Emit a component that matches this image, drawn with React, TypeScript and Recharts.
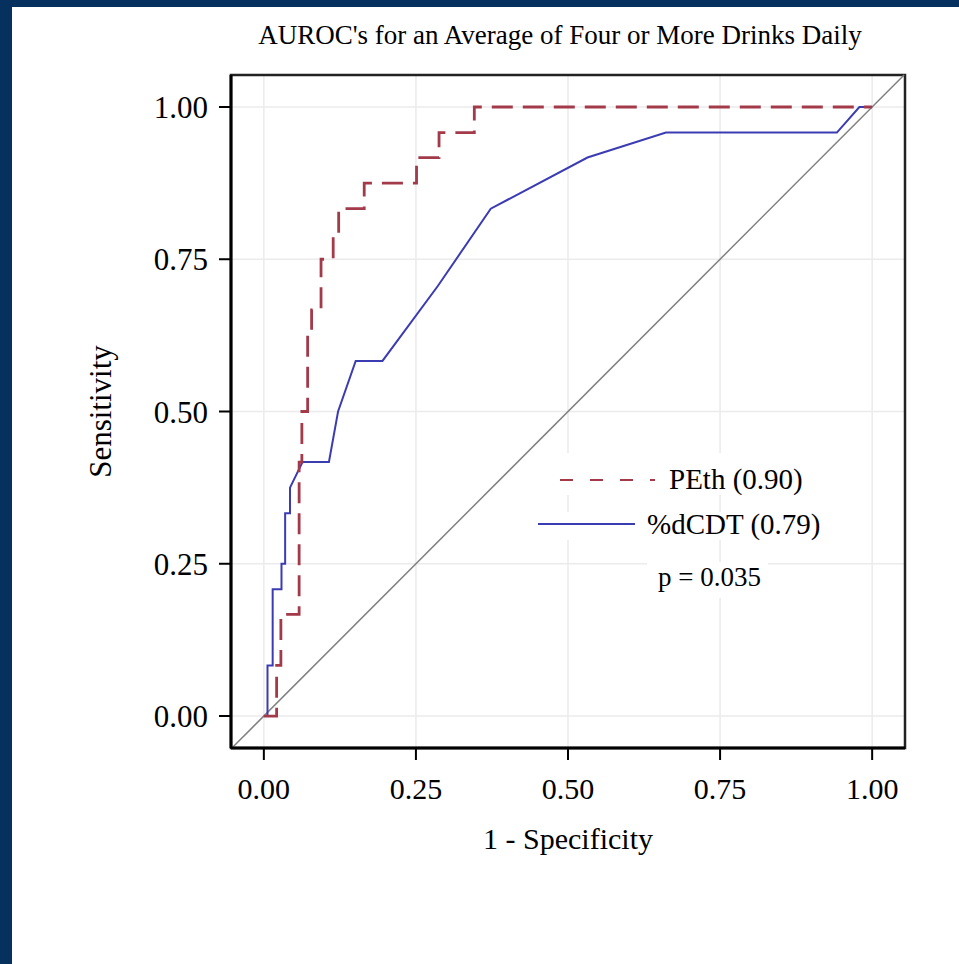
import { LineChart, Line, XAxis, YAxis, CartesianGrid, ReferenceLine, ReferenceArea, Label } from 'recharts';

const TITLE = "AUROC's for an Average of Four or More Drinks Daily";
const X_LABEL = '1 - Specificity';
const Y_LABEL = 'Sensitivity';
const AXIS_TICKS = [0, 0.25, 0.5, 0.75, 1];
const X_DOMAIN: [number, number] = [-0.054, 1.054];
const Y_DOMAIN: [number, number] = [-0.0525, 1.0525];

const SERIES_NAMES = ['PEth (0.90)', '%dCDT (0.79)'];
const P_VALUE = 'p = 0.035';

// PEth ROC points (1 - specificity, sensitivity)
const pethFpr = [0, 0.021, 0.021, 0.028, 0.028, 0.058, 0.058, 0.0625, 0.0625, 0.072, 0.072, 0.0785, 0.0785, 0.094, 0.094, 0.114, 0.114, 0.123, 0.123, 0.165, 0.165, 0.251, 0.251, 0.288, 0.288, 0.346, 0.346, 1];
const pethTpr = [0, 0, 0.083, 0.083, 0.167, 0.167, 0.417, 0.417, 0.5, 0.5, 0.625, 0.625, 0.667, 0.667, 0.75, 0.75, 0.792, 0.792, 0.833, 0.833, 0.875, 0.875, 0.917, 0.917, 0.958, 0.958, 1, 1];

// %dCDT ROC points
const cdtFpr = [0, 0.006, 0.006, 0.0145, 0.0145, 0.029, 0.029, 0.035, 0.035, 0.043, 0.043, 0.0636, 0.107, 0.122, 0.151, 0.195, 0.286, 0.373, 0.532, 0.661, 0.942, 0.979, 1];
const cdtTpr = [0, 0, 0.083, 0.083, 0.208, 0.208, 0.25, 0.25, 0.333, 0.333, 0.375, 0.417, 0.417, 0.5, 0.583, 0.583, 0.706, 0.833, 0.917, 0.958, 0.958, 1, 1];

const pethData = pethFpr.map((x, i) => ({ x, y: pethTpr[i] }));
const cdtData = cdtFpr.map((x, i) => ({ x, y: cdtTpr[i] }));

const FONT = '"Liberation Serif", "Times New Roman", serif';
const RED = '#a33a4a';
const BLUE = '#3c3cb2';
const NAVY = '#06305e';

export default function App() {
  return (
    <div style={{ position: 'absolute', left: 0, top: 0, width: 959, height: 964, background: NAVY, fontFamily: FONT }}>
      <div style={{ position: 'absolute', left: 12, top: 7, right: 0, bottom: 0, background: '#fff' }} />
      <div style={{ position: 'absolute', left: 0, top: 0 }}>
        <LineChart width={959} height={964} margin={{ top: 75, right: 54, bottom: 0, left: 0 }}>
          <CartesianGrid stroke="#ebebeb" strokeWidth={1.5} />
          <XAxis
            type="number"
            dataKey="x"
            domain={X_DOMAIN}
            ticks={AXIS_TICKS}
            allowDataOverflow
            height={216}
            tickFormatter={(v: number) => v.toFixed(2)}
            tick={{ fontSize: 30, fill: '#000', fontFamily: FONT }}
            tickSize={12}
            tickMargin={18}
            tickLine={{ stroke: '#000', strokeWidth: 2 }}
            axisLine={{ stroke: '#000', strokeWidth: 3 }}
          >
            <Label value={X_LABEL} position="insideTop" offset={80} style={{ fontSize: 30, fill: '#000', fontFamily: FONT }} />
          </XAxis>
          <YAxis
            type="number"
            dataKey="y"
            domain={Y_DOMAIN}
            ticks={AXIS_TICKS}
            allowDataOverflow
            width={231}
            tickFormatter={(v: number) => v.toFixed(2)}
            tick={{ fontSize: 31, fill: '#000', fontFamily: FONT }}
            tickSize={12}
            tickMargin={11}
            tickLine={{ stroke: '#000', strokeWidth: 2 }}
            axisLine={{ stroke: '#000', strokeWidth: 3 }}
          >
            <Label value={Y_LABEL} angle={-90} position="insideLeft" offset={100} style={{ fontSize: 31, fill: '#000', fontFamily: FONT, textAnchor: 'middle' }} />
          </YAxis>
          <ReferenceArea x1={X_DOMAIN[0]} x2={X_DOMAIN[1]} y1={Y_DOMAIN[0]} y2={Y_DOMAIN[1]} fill="none" fillOpacity={0} stroke="#222" strokeWidth={2.5} />
          <ReferenceLine
            segment={[{ x: Y_DOMAIN[0], y: Y_DOMAIN[0] }, { x: Y_DOMAIN[1], y: Y_DOMAIN[1] }]}
            stroke="#808080"
            strokeWidth={1.5}
          />
          <Line data={cdtData} dataKey="y" name={SERIES_NAMES[1]} type="linear" stroke={BLUE} strokeWidth={2} dot={false} activeDot={false} isAnimationActive={false} />
          <Line data={pethData} dataKey="y" name={SERIES_NAMES[0]} type="linear" stroke={RED} strokeWidth={2.8} strokeDasharray="21 10" dot={false} activeDot={false} isAnimationActive={false} />
        </LineChart>
      </div>
      <svg width={959} height={964} style={{ position: 'absolute', left: 0, top: 0, pointerEvents: 'none' }}>
        <text x={560} y={44} textAnchor="middle" fontSize={27} fontFamily={FONT} fill="#000">{TITLE}</text>
        <rect x={555} y={453} width={255} height={42} fill="#fff" />
        <rect x={535} y={512} width={295} height={28} fill="#fff" />
        <rect x={647} y={562} width={121} height={36} fill="#fff" />
        <line x1={560} y1={480} x2={655} y2={480} stroke={RED} strokeWidth={2} strokeDasharray="13 17" />
        <text x={669} y={489} fontSize={29} fontFamily={FONT} fill="#000">{SERIES_NAMES[0]}</text>
        <line x1={538} y1={524} x2={635} y2={524} stroke={BLUE} strokeWidth={2} />
        <text x={647} y={534} fontSize={29} fontFamily={FONT} fill="#000">{SERIES_NAMES[1]}</text>
        <text x={658} y={586} fontSize={27} fontFamily={FONT} fill="#000">{P_VALUE}</text>
      </svg>
    </div>
  );
}
